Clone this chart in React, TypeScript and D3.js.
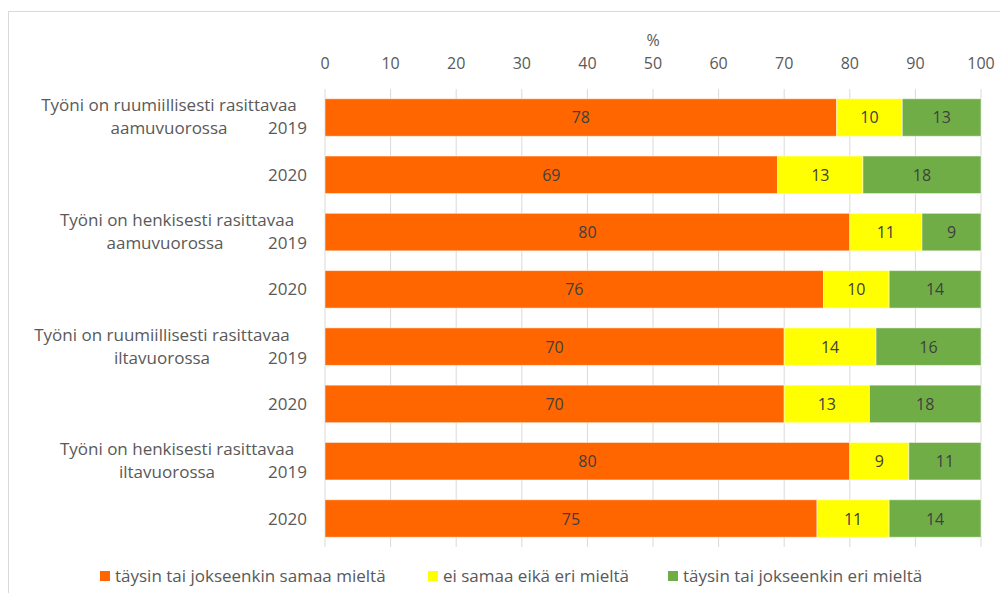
import React from "react";
import * as d3 from "d3";

const groups = [
  "Työni on ruumiillisesti rasittavaa|aamuvuorossa",
  "Työni on henkisesti rasittavaa|aamuvuorossa",
  "Työni on ruumiillisesti rasittavaa|iltavuorossa",
  "Työni on henkisesti rasittavaa|iltavuorossa",
];
const years = ["2019", "2020"];
const agree = [78, 69, 80, 76, 70, 70, 80, 75];
const neutral = [10, 13, 11, 10, 14, 13, 9, 11];
const disagree = [13, 18, 9, 14, 16, 18, 11, 14];
const seriesNames = [
  "täysin tai jokseenkin samaa mieltä",
  "ei samaa eikä eri mieltä",
  "täysin tai jokseenkin eri mieltä",
];
const colors = ["#FF6600", "#FFFF00", "#70AD47"];
const xTicks = [0, 10, 20, 30, 40, 50, 60, 70, 80, 90, 100];

const W = 1000;
const H = 593;
const FONT = "'Open Sans', sans-serif";
const TEXT = "#595959";
// label centre positions (layout)
const line1X = [169, 177, 162, 177];
const line2X = [169, 165, 162, 167];

export default function App() {
  const rows = groups.flatMap((g, gi) => years.map((y, yi) => ({ g, gi, y, yi, i: gi * 2 + yi })));
  const x = d3.scaleLinear().domain([0, 100]).range([325, 981]);
  const y = d3
    .scaleBand<number>()
    .domain(rows.map((r) => r.i))
    .range([89, 547])
    .paddingInner(0.345)
    .paddingOuter(0.17);
  const series = [agree, neutral, disagree];
  const legendX = [100, 428, 668];

  return (
    <svg width={W} height={H} style={{ position: "absolute", left: 0, top: 0 }} fontFamily={FONT}>
      <rect x={8.5} y={11.5} width={W + 10} height={H + 10} fill="#fff" stroke="#d9d9d9" />
      {xTicks.map((t) => (
        <g key={t}>
          <line x1={x(t)} x2={x(t)} y1={89} y2={547} stroke="#d9d9d9" strokeWidth={1} />
          <text x={x(t)} y={69} textAnchor="middle" fontSize={16} fill={TEXT}>
            {t}
          </text>
        </g>
      ))}
      <text x={x(50)} y={46} textAnchor="middle" fontSize={16} fill={TEXT}>
        %
      </text>
      {rows.map((r) => {
        let acc = 0;
        const b = y(r.i)!;
        const h = y.bandwidth();
        return (
          <g key={r.i}>
            {series.map((s, si) => {
              const v = s[r.i];
              const x0 = x(Math.min(acc, 100));
              acc += v;
              const x1 = x(Math.min(acc, 100));
              return (
                <g key={si}>
                  <rect x={x0} y={b} width={x1 - x0} height={h} fill={colors[si]} stroke="#fff" strokeOpacity={0.5} strokeWidth={1} />
                  <text x={(x0 + x1) / 2} y={b + h / 2 + 6} textAnchor="middle" fontSize={16} fill="#404040">
                    {v}
                  </text>
                </g>
              );
            })}
          </g>
        );
      })}
      {rows.map((r) => {
        const c = y(r.i)! + y.bandwidth() / 2;
        const [l1, l2] = r.g.split("|");
        return (
          <g key={"l" + r.i} fontSize={17} fill={TEXT}>
            {r.yi === 0 && (
              <>
                <text x={line1X[r.gi]} y={c - 6} textAnchor="middle">
                  {l1}
                </text>
                <text x={line2X[r.gi]} y={c + 17} textAnchor="middle">
                  {l2}
                </text>
              </>
            )}
            <text x={307} y={r.yi === 0 ? c + 17 : c + 6} textAnchor="end">
              {r.y}
            </text>
          </g>
        );
      })}
      {seriesNames.map((n, i) => (
        <g key={n}>
          <rect x={legendX[i]} y={571} width={10} height={10} fill={colors[i]} />
          <text x={legendX[i] + 15} y={582} fontSize={17} fill={TEXT}>
            {n}
          </text>
        </g>
      ))}
    </svg>
  );
}
